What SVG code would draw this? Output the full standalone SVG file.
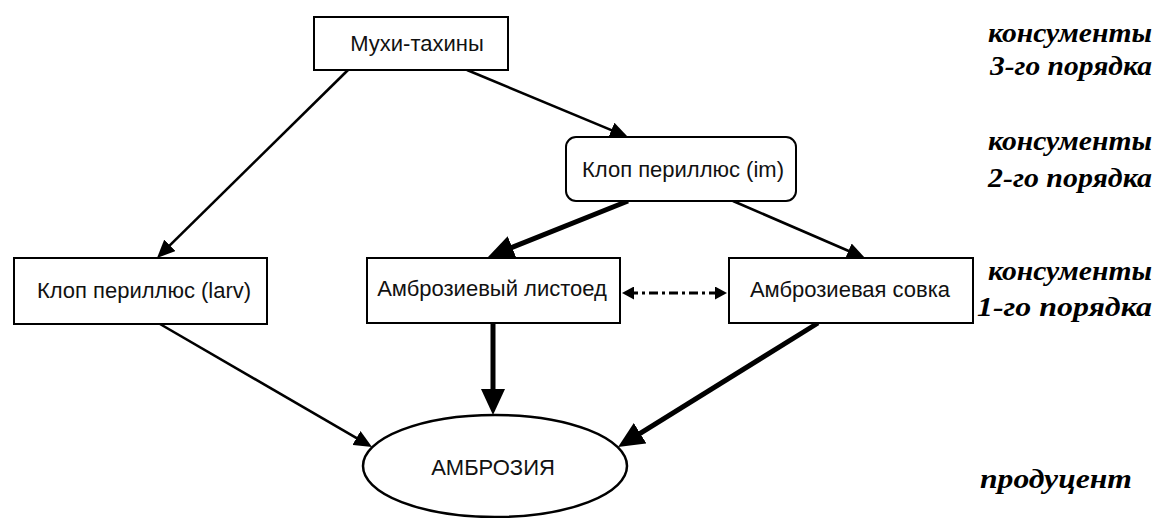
<svg xmlns="http://www.w3.org/2000/svg" width="1157" height="518" viewBox="0 0 1157 518">
<style>
.box{fill:#fff;stroke:#000;stroke-width:2}
.lbl{font-family:"Liberation Sans",Arial,sans-serif;font-size:22px;fill:#111;text-anchor:middle}
.lvl{font-family:"Liberation Serif","Times New Roman",serif;font-size:27px;font-weight:bold;font-style:italic;fill:#000}
.thin{fill:none;stroke:#000;stroke-width:2.6;marker-end:url(#hThin)}
.thick{fill:none;stroke:#000;stroke-width:5;marker-end:url(#hThick)}
.dash{fill:none;stroke:#000;stroke-width:3;stroke-dasharray:9 4 3 4;marker-start:url(#hSmall);marker-end:url(#hSmall)}
</style>
<defs>
<marker id="hThin" markerUnits="userSpaceOnUse" markerWidth="18" markerHeight="16" refX="7.2" refY="8" orient="auto"><path d="M0,0 L18,8 L0,16 z" fill="#000"/></marker>
<marker id="hThick" markerUnits="userSpaceOnUse" markerWidth="26" markerHeight="24" refX="10.4" refY="12" orient="auto"><path d="M0,0 L26,12 L0,24 z" fill="#000"/></marker>
<marker id="hSmall" markerUnits="userSpaceOnUse" markerWidth="12" markerHeight="13" refX="5" refY="6.5" orient="auto-start-reverse"><path d="M0,0 L12,6.5 L0,13 z" fill="#000"/></marker>
</defs>
<rect width="1157" height="518" fill="#fff"/>
<g id="connectors">
<line class="thin" x1="348" y1="70" x2="164.7" y2="250.4"/>
<line class="thin" x1="467" y1="70" x2="618" y2="132.9"/>
<line class="thick" x1="628" y1="201" x2="502.5" y2="251.2"/>
<line class="thin" x1="733" y1="201" x2="855.1" y2="253.7"/>
<line class="thin" x1="160" y1="324" x2="362.7" y2="441.6"/>
<line class="thick" x1="493" y1="323" x2="493" y2="399.4"/>
<line class="thick" x1="818" y1="323" x2="631.3" y2="438.8"/>
<line class="dash" x1="629" y1="293" x2="720" y2="293"/>
</g>
<g id="n-muhi">
<rect class="box" x="314" y="17" width="194" height="53"/>
<text class="lbl" x="417" y="51">Мухи-тахины</text>
</g>
<g id="n-klop-im">
<rect class="box" x="566" y="137" width="230" height="64" rx="10"/>
<text class="lbl" x="683" y="177">Клоп периллюс (im)</text>
</g>
<g id="n-klop-larv">
<rect class="box" x="14" y="258" width="253" height="66"/>
<text class="lbl" x="144" y="298">Клоп периллюс (larv)</text>
</g>
<g id="n-listoed">
<rect class="box" x="367" y="258" width="253" height="65"/>
<text class="lbl" x="492" y="296">Амброзиевый листоед</text>
</g>
<g id="n-sovka">
<rect class="box" x="729" y="258" width="244" height="65"/>
<text class="lbl" x="850" y="297">Амброзиевая совка</text>
</g>
<g id="n-ambrosia">
<ellipse cx="495" cy="466" rx="132" ry="51" fill="#fff" stroke="#000" stroke-width="2.5"/>
<text class="lbl" x="493" y="475">АМБРОЗИЯ</text>
</g>
<g id="levels">
<text class="lvl" x="988" y="42" textLength="164" lengthAdjust="spacingAndGlyphs">консументы</text>
<text class="lvl" x="990" y="75" textLength="162" lengthAdjust="spacingAndGlyphs">3-го порядка</text>
<text class="lvl" x="988" y="150" textLength="164" lengthAdjust="spacingAndGlyphs">консументы</text>
<text class="lvl" x="988" y="187" textLength="164" lengthAdjust="spacingAndGlyphs">2-го порядка</text>
<text class="lvl" x="988" y="280" textLength="164" lengthAdjust="spacingAndGlyphs">консументы</text>
<text class="lvl" x="977" y="316" textLength="175" lengthAdjust="spacingAndGlyphs">1-го порядка</text>
<text class="lvl" x="980" y="488" textLength="152" lengthAdjust="spacingAndGlyphs">продуцент</text>
</g>
</svg>
